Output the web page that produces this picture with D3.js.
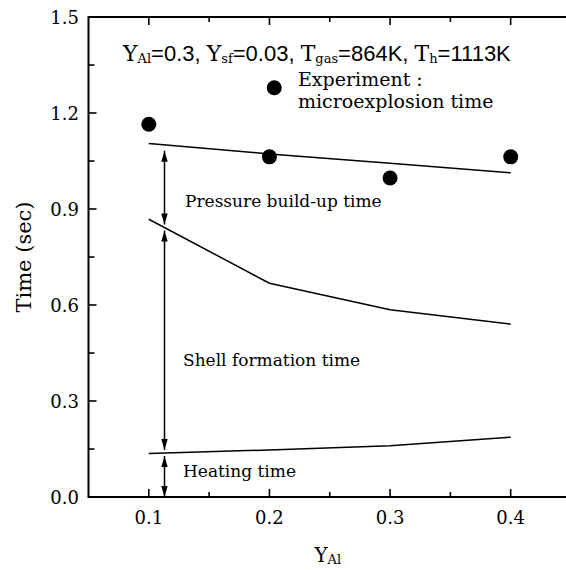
<!DOCTYPE html>
<html>
<head>
<meta charset="utf-8">
<script src="https://cdn.jsdelivr.net/npm/d3@7"></script>
<style>
  html, body { margin: 0; padding: 0; background: #fff; }
  svg text { font-family: "DejaVu Serif", serif; fill: #000; }
</style>
</head>
<body>
<svg id="chart" width="566" height="570"></svg>
<script>
// Y_Al values for the model curves
const yAl = [0.1, 0.2, 0.3, 0.4];
// model curves (sec)
const totalTime   = [1.105, 1.072, 1.043, 1.013];
const shellTime   = [0.868, 0.668, 0.585, 0.540];
const heatingTime = [0.136, 0.147, 0.160, 0.187];
// experiment: microexplosion time
const expX = [0.1, 0.204, 0.2, 0.3, 0.4];
const expY = [1.165, 1.279, 1.063, 0.997, 1.063];
// ticks
const xTicks = [0.1, 0.2, 0.3, 0.4];
const xMinor = [0.15, 0.25, 0.35];
const yTicks = [0.0, 0.3, 0.6, 0.9, 1.2, 1.5];
const yMinor = [0.15, 0.45, 0.75, 1.05, 1.35];
// where the double arrows stand
const arrowX = 0.113;

const svg = d3.select("#chart");
const x = d3.scaleLinear().domain([0.05, 0.45]).range([88.5, 571]);
const y = d3.scaleLinear().domain([0, 1.5]).range([497, 17]);

// ── frame (open on the right, cut by the page) ──
const [x0, x1] = x.range();
const [yb, yt] = y.range();
svg.append("path")
  .attr("d", `M${x1},${yt}H${x0}V${yb}H${x1}`)
  .attr("fill", "none").attr("stroke", "#000").attr("stroke-width", 2);

// ── ticks, pointing inward ──
const tickG = svg.append("g").attr("stroke", "#000").attr("stroke-width", 1.6);
xTicks.forEach(v => {
  tickG.append("line").attr("x1", x(v)).attr("x2", x(v)).attr("y1", yb).attr("y2", yb - 8);
  tickG.append("line").attr("x1", x(v)).attr("x2", x(v)).attr("y1", yt).attr("y2", yt + 8);
});
xMinor.forEach(v => {
  tickG.append("line").attr("x1", x(v)).attr("x2", x(v)).attr("y1", yb).attr("y2", yb - 5);
  tickG.append("line").attr("x1", x(v)).attr("x2", x(v)).attr("y1", yt).attr("y2", yt + 5);
});
yTicks.forEach(v => {
  tickG.append("line").attr("x1", x0).attr("x2", x0 + 8).attr("y1", y(v)).attr("y2", y(v));
});
yMinor.forEach(v => {
  tickG.append("line").attr("x1", x0).attr("x2", x0 + 6).attr("y1", y(v)).attr("y2", y(v));
});

// tick labels
svg.append("g").selectAll("text")
  .data(xTicks).join("text")
    .attr("x", d => x(d)).attr("y", 524)
    .attr("text-anchor", "middle").attr("font-size", 18)
    .text(d => d.toFixed(1));
svg.append("g").selectAll("text")
  .data(yTicks).join("text")
    .attr("x", 79).attr("y", d => y(d) + 6.5)
    .attr("text-anchor", "end").attr("font-size", 18)
    .text(d => d.toFixed(1));

// axis titles
svg.append("text")
  .attr("transform", `translate(31,${(yt + yb) / 2}) rotate(-90)`)
  .attr("text-anchor", "middle").attr("font-size", 21)
  .text("Time (sec)");
const xt = svg.append("text")
  .attr("x", (x0 + x1) / 2 - 2).attr("y", 562)
  .attr("text-anchor", "middle").attr("font-size", 20);
xt.append("tspan").text("Y");
xt.append("tspan").attr("font-size", 13).attr("dy", 2).text("Al");

// ── model curves ──
const line = d3.line().x((d, i) => x(yAl[i])).y(d => y(d));
[totalTime, shellTime, heatingTime].forEach(s => {
  svg.append("path")
    .attr("d", line(s))
    .attr("fill", "none").attr("stroke", "#000").attr("stroke-width", 1.5);
});

// ── experiment points ──
svg.append("g").selectAll("circle")
  .data(expX).join("circle")
    .attr("cx", d => x(d)).attr("cy", (d, i) => y(expY[i]))
    .attr("r", 7.5).attr("fill", "#000");

// ── double arrows between curves ──
const at = s => d3.scaleLinear().domain(yAl).range(s)(arrowX);
const levels = [at(totalTime), at(shellTime), at(heatingTime), 0];
const ax = x(arrowX);
function head(tipY, dir) {
  // dir = -1 points up, +1 points down
  const len = 11, hw = 3.2;
  return `M${ax},${tipY}L${ax - hw},${tipY - dir * len}L${ax + hw},${tipY - dir * len}Z`;
}
const arrG = svg.append("g");
for (let i = 0; i < 3; i++) {
  const top = y(levels[i]) + (i === 0 ? 6 : 3);
  const bot = y(levels[i + 1]) - (i === 2 ? 0 : 3);
  arrG.append("line")
    .attr("x1", ax).attr("x2", ax).attr("y1", top).attr("y2", bot)
    .attr("stroke", "#000").attr("stroke-width", 1.5);
  arrG.append("path").attr("d", head(top, -1)).attr("fill", "#000");
  arrG.append("path").attr("d", head(bot, 1)).attr("fill", "#000");
}

// ── annotations ──
const title = svg.append("text").attr("x", 123).attr("y", 61).attr("font-size", 22);
[["Y", "Al", "=0.3, "], ["Y", "sf", "=0.03, "], ["T", "gas", "=864K, "], ["T", "h", "=1113K"]]
  .forEach(([main, sub, rest]) => {
    title.append("tspan").attr("dy", 0).text(main);
    title.append("tspan").attr("font-size", 13).attr("dy", 2).text(sub);
    title.append("tspan").attr("dy", -2)
      .style("font-family", "'Liberation Sans', Arial, sans-serif").text(rest);
  });

const notes = [
  ["Experiment :", 298, 86, 19],
  ["microexplosion time", 298, 108, 19],
  ["Pressure build-up time", 185, 207, 17],
  ["Shell formation time", 183, 366, 17],
  ["Heating time", 183, 477, 17]
];
svg.append("g").selectAll("text")
  .data(notes).join("text")
    .attr("x", d => d[1]).attr("y", d => d[2])
    .attr("font-size", d => d[3])
    .text(d => d[0]);
</script>
</body>
</html>
